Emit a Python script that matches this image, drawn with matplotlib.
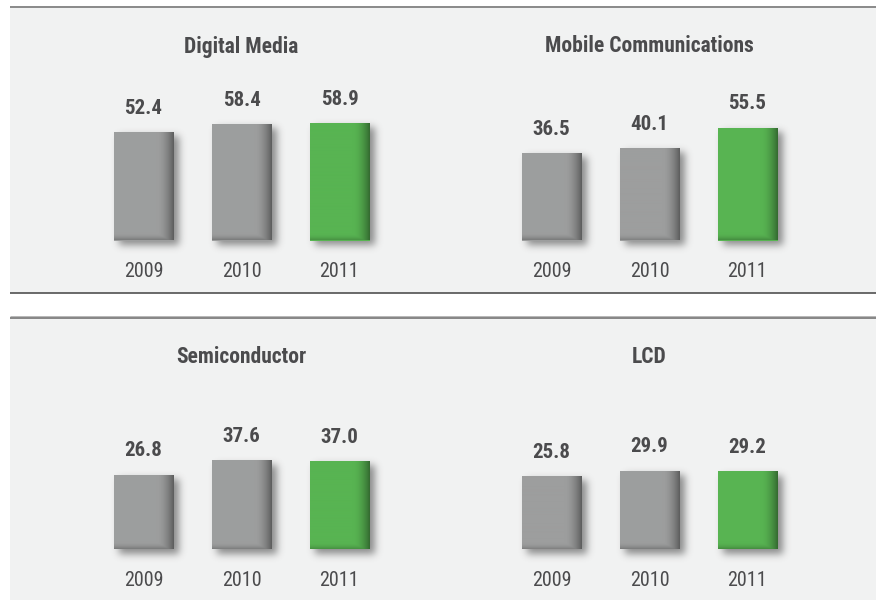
import numpy as np
import matplotlib
matplotlib.use("Agg")
import matplotlib.pyplot as plt
from matplotlib.patches import Rectangle

# ---- data -------------------------------------------------------------
years = ["2009", "2010", "2011"]
titles = ["Digital Media", "Mobile Communications", "Semiconductor", "LCD"]
digital_media = [52.4, 58.4, 58.9]
mobile_communications = [36.5, 40.1, 55.5]
semiconductor = [26.8, 37.6, 37.0]
lcd = [25.8, 29.9, 29.2]

# ---- geometry (pixels) ------------------------------------------------
W, H = 876, 600
PX_PER_CAT = 98.0       # horizontal spacing between bars
PX_PER_UNIT = 1.33      # vertical pixels per value unit
BASE = -29.3            # value at the bar baseline
BAR_PX = 60.0
BAR_W = BAR_PX / PX_PER_CAT
BELOW = 45.0            # axes room under the baseline (px)
ABOVE = 220.0           # axes room over the baseline (px)

TEXT = "#4b4b4d"
GREY = np.array([157, 158, 158]) / 255.0
GREEN = np.array([88, 180, 82]) / 255.0
PANEL = "#f1f2f2"

FAMILY = ["Roboto Condensed", "DejaVu Sans"]
BOLD = dict(family=FAMILY, weight="semibold")
REG = dict(family=FAMILY, weight="normal")

fig = plt.figure(figsize=(W / 100, H / 100), dpi=100)
fig.patch.set_facecolor("white")

# ---- background bands --------------------------------------------------
bg = fig.add_axes([0, 0, 1, 1], zorder=0)
bg.set_xlim(0, W)
bg.set_ylim(H, 0)
bg.axis("off")
bg.add_patch(Rectangle((10, 7), W - 10, 286, color=PANEL, lw=0))
bg.add_patch(Rectangle((10, 317), W - 10, H - 317, color=PANEL, lw=0))
px = 72 / 100
bg.plot([10, W], [7, 7], color="#8c8c8c", lw=2 * px, solid_capstyle="butt")
bg.plot([10, W], [293, 293], color="#4a4a4a", lw=1.6 * px, solid_capstyle="butt")
bg.plot([10, W], [316, 316], color="#b8b8b8", lw=1 * px, solid_capstyle="butt")
bg.plot([10, W], [317.5, 317.5], color="#6e6e6e", lw=1.6 * px, solid_capstyle="butt")


def gaussian_blur(a, sigma):
    r = int(3 * sigma)
    k = np.exp(-0.5 * (np.arange(-r, r + 1) / sigma) ** 2)
    k /= k.sum()
    a = np.apply_along_axis(lambda m: np.convolve(m, k, mode="same"), 0, a)
    a = np.apply_along_axis(lambda m: np.convolve(m, k, mode="same"), 1, a)
    return a


def shaded_face(color, w_px, h_px):
    """Bar face with a darkened right edge and a soft bottom edge."""
    ww, hh = int(round(w_px)) * 2, max(int(round(h_px)) * 2, 2)
    xs = (np.arange(ww) + 0.5) / 2.0
    ys = (np.arange(hh) + 0.5) / 2.0
    tx = np.clip((xs - (w_px - 17)) / 17.0, 0, 1) ** 1.8 * 0.42
    ty = np.clip((ys - (h_px - 7)) / 7.0, 0, 1) ** 2.0 * 0.22
    d = np.maximum(tx[None, :], ty[:, None])
    img = color[None, None, :] * (1 - d[..., None])
    return img


def shadow(w_px, h_px, pad=16, dx=5, dy=5, sigma=3.8, alpha=0.6):
    w, h = int(round(w_px)), int(round(h_px))
    m = np.zeros((h + 2 * pad, w + 2 * pad))
    m[pad + dy:pad + dy + h, pad + dx:pad + dx + w] = 1.0
    m = gaussian_blur(m, sigma)
    rgba = np.zeros(m.shape + (4,))
    rgba[..., :3] = 0.28
    rgba[..., 3] = m * alpha
    return rgba, pad


panels = [
    (titles[0], digital_media, 143.5, 240.5, 52.5),
    (titles[1], mobile_communications, 551.5, 240.5, 52.5),
    (titles[2], semiconductor, 143.5, 549.3, 363.0),
    (titles[3], lcd, 551.5, 549.3, 363.0),
]

for title, values, c0, baseline, title_y in panels:
    left = c0 - PX_PER_CAT
    ax = fig.add_axes([left / W, (H - (baseline + BELOW)) / H,
                       4 * PX_PER_CAT / W, (BELOW + ABOVE) / H], zorder=1)
    ax.set_xlim(-1, 3)
    ax.set_ylim(BASE - BELOW / PX_PER_UNIT, BASE + ABOVE / PX_PER_UNIT)
    ax.axis("off")
    ax.patch.set_alpha(0)

    xs = np.arange(len(years))
    heights = [v - BASE for v in values]
    colors = [GREY, GREY, GREEN]
    bars = ax.bar(xs, heights, bottom=BASE, width=BAR_W,
                  color=colors, lw=0, zorder=3)

    for i, (bar, v, col) in enumerate(zip(bars, values, colors)):
        x0, x1 = bar.get_x(), bar.get_x() + bar.get_width()
        y0, y1 = bar.get_y(), bar.get_y() + bar.get_height()
        h_px = bar.get_height() * PX_PER_UNIT

        sh, pad = shadow(BAR_PX, h_px)
        ax.imshow(sh, extent=[x0 - pad / PX_PER_CAT, x1 + pad / PX_PER_CAT,
                              y0 - pad / PX_PER_UNIT, y1 + pad / PX_PER_UNIT],
                  origin="upper", aspect="auto", zorder=2,
                  interpolation="bilinear", clip_on=False)

        face = shaded_face(col, BAR_PX, h_px)
        im = ax.imshow(face, extent=[x0, x1, y0, y1], origin="upper",
                       aspect="auto", zorder=4, interpolation="bilinear")
        im.set_clip_path(bar)

        ax.annotate(f"{v:.1f}", (xs[i], v), xytext=(0, 13.2),
                    textcoords="offset points", ha="center", va="baseline",
                    fontsize=15, color=TEXT, zorder=5, **BOLD)
        ax.annotate(years[i], (xs[i], BASE), xytext=(0, -26.3),
                    textcoords="offset points", ha="center", va="baseline",
                    fontsize=14.5, color=TEXT, zorder=5, **REG)

    fig.text((c0 + PX_PER_CAT) / W, 1 - title_y / H, title, ha="center",
             va="baseline", fontsize=15.5, color=TEXT, **BOLD)

fig.savefig("out.png", dpi=100, facecolor=fig.get_facecolor())
